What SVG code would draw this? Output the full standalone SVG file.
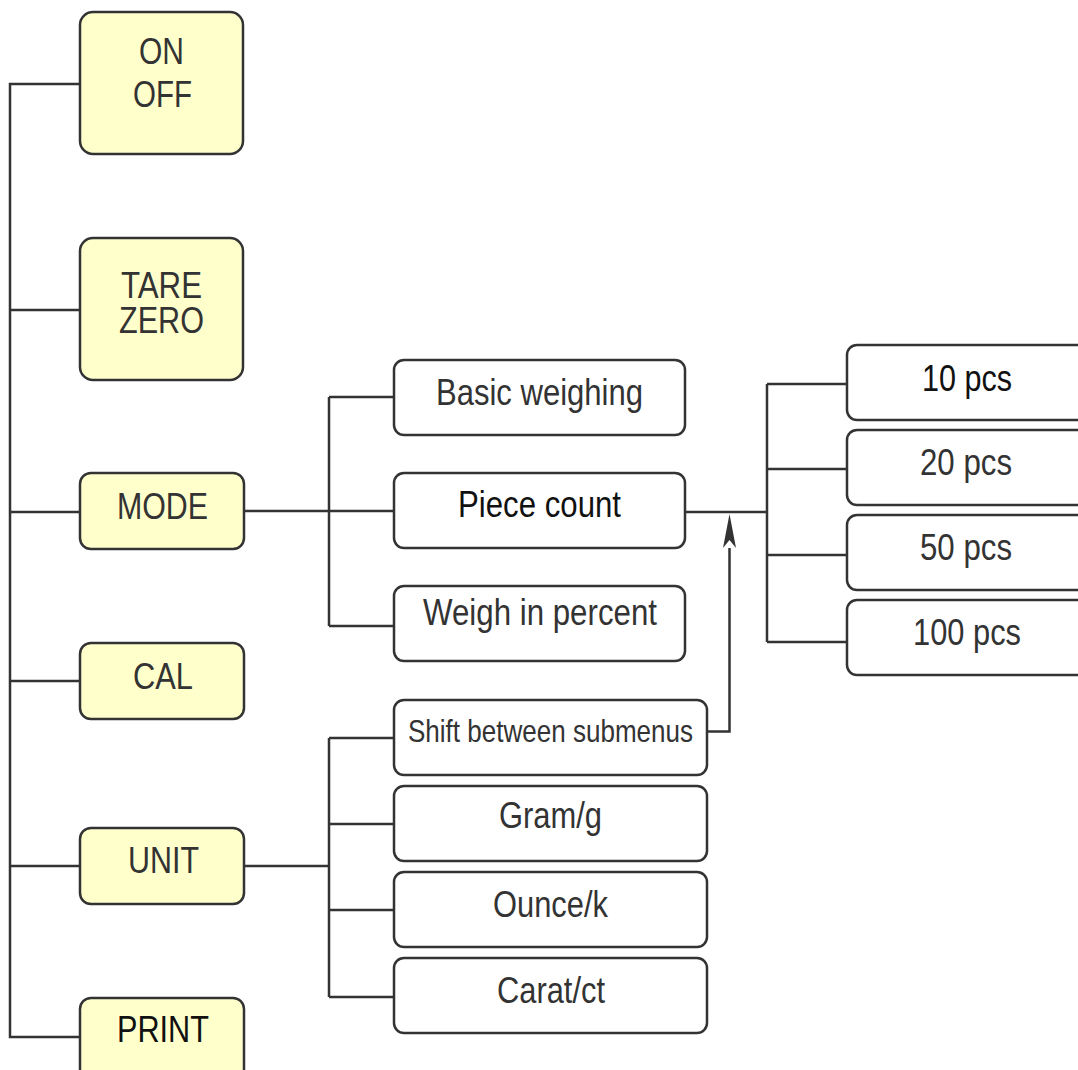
<svg xmlns="http://www.w3.org/2000/svg" width="1078" height="1070" viewBox="0 0 1078 1070">
<style>
.y{fill:#ffffcc;stroke:#333;stroke-width:2.5}
.w{fill:#fff;stroke:#333;stroke-width:2.5}
.t{font-family:"Liberation Sans",Arial,sans-serif;font-size:36px;fill:#333;text-anchor:middle}
.k{fill:#111}
.s{font-size:32px}
.c{fill:none;stroke:#333;stroke-width:2.5}
</style>
<rect width="1078" height="1070" fill="#fff"/>
<g id="connectors">
<path class="c" d="M80,84 H10 V1037 H80 M10,310 H80 M10,512 H80 M10,681 H80 M10,866 H80"/>
<path class="c" d="M244,511 H394 M329,397 V626 M329,397 H394 M329,626 H394"/>
<path class="c" d="M685,512 H767 M767,384 V642 M767,384 H847 M767,469 H847 M767,555 H847 M767,642 H847"/>
<path class="c" d="M244,866 H329 M329,738 V997 M329,738 H394 M329,824 H394 M329,910 H394 M329,997 H394"/>
<path class="c" d="M707,731.5 H729.5 V548" stroke-width="3"/>
<path d="M729.5,514 L736,548 L729.5,540 L723,548 Z" fill="#333"/>
</g>
<g id="n-onoff"><rect class="y" x="80" y="12" width="163" height="142" rx="13"/><text class="t" x="161.5" y="64" textLength="45" lengthAdjust="spacingAndGlyphs">ON</text><text class="t" x="162.5" y="107" textLength="59" lengthAdjust="spacingAndGlyphs">OFF</text></g>
<g id="n-tare"><rect class="y" x="80" y="238" width="163" height="142" rx="13"/><text class="t" x="161.5" y="298" textLength="81" lengthAdjust="spacingAndGlyphs">TARE</text><text class="t" x="161.5" y="333" textLength="85" lengthAdjust="spacingAndGlyphs">ZERO</text></g>
<g id="n-mode"><rect class="y" x="80" y="473" width="164" height="76" rx="11"/><text class="t" x="162.5" y="519" textLength="91" lengthAdjust="spacingAndGlyphs">MODE</text></g>
<g id="n-cal"><rect class="y" x="80" y="643" width="164" height="76" rx="11"/><text class="t" x="163" y="689" textLength="60" lengthAdjust="spacingAndGlyphs">CAL</text></g>
<g id="n-unit"><rect class="y" x="80" y="828" width="164" height="76" rx="11"/><text class="t" x="163.5" y="873" textLength="71" lengthAdjust="spacingAndGlyphs">UNIT</text></g>
<g id="n-print"><rect class="y" x="80" y="998" width="164" height="90" rx="11"/><text class="t k" x="163" y="1042" textLength="92" lengthAdjust="spacingAndGlyphs">PRINT</text></g>
<g id="n-basic"><rect class="w" x="394" y="360" width="291" height="75" rx="10"/><text class="t" x="539.5" y="405" textLength="207" lengthAdjust="spacingAndGlyphs">Basic weighing</text></g>
<g id="n-piece"><rect class="w" x="394" y="473" width="291" height="75" rx="10"/><text class="t k" x="539.5" y="517" textLength="163" lengthAdjust="spacingAndGlyphs">Piece count</text></g>
<g id="n-percent"><rect class="w" x="394" y="586" width="291" height="75" rx="10"/><text class="t" x="540" y="625" textLength="234" lengthAdjust="spacingAndGlyphs">Weigh in percent</text></g>
<g id="n-10"><rect class="w" x="847" y="345" width="250" height="75" rx="10"/><text class="t k" x="967" y="391" textLength="90" lengthAdjust="spacingAndGlyphs">10 pcs</text></g>
<g id="n-20"><rect class="w" x="847" y="430" width="250" height="75" rx="10"/><text class="t" x="966" y="475" textLength="92" lengthAdjust="spacingAndGlyphs">20 pcs</text></g>
<g id="n-50"><rect class="w" x="847" y="515" width="250" height="75" rx="10"/><text class="t" x="966" y="560" textLength="92" lengthAdjust="spacingAndGlyphs">50 pcs</text></g>
<g id="n-100"><rect class="w" x="847" y="600" width="250" height="75" rx="10"/><text class="t" x="967" y="645" textLength="108" lengthAdjust="spacingAndGlyphs">100 pcs</text></g>
<g id="n-shift"><rect class="w" x="394" y="700" width="313" height="75" rx="10"/><text class="t s" x="550.5" y="742" textLength="285" lengthAdjust="spacingAndGlyphs">Shift between submenus</text></g>
<g id="n-gram"><rect class="w" x="394" y="786" width="313" height="75" rx="10"/><text class="t" x="550.5" y="828" textLength="103" lengthAdjust="spacingAndGlyphs">Gram/g</text></g>
<g id="n-ounce"><rect class="w" x="394" y="872" width="313" height="75" rx="10"/><text class="t" x="550.5" y="917" textLength="115" lengthAdjust="spacingAndGlyphs">Ounce/k</text></g>
<g id="n-carat"><rect class="w" x="394" y="958" width="313" height="75" rx="10"/><text class="t" x="551" y="1003" textLength="108" lengthAdjust="spacingAndGlyphs">Carat/ct</text></g>
</svg>
